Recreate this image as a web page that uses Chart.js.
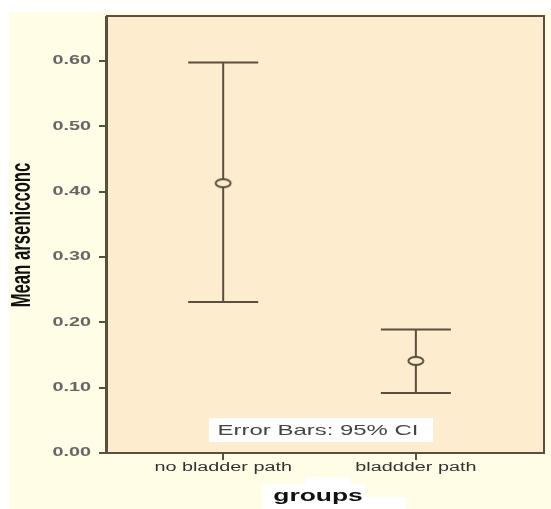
<!DOCTYPE html>
<html>
<head>
<meta charset="utf-8">
<script src="https://cdn.jsdelivr.net/npm/chart.js@4"></script>
<style>
  html, body { margin: 0; padding: 0; background: #ffffff; }
  #chart { display: block; }
</style>
</head>
<body>
<canvas id="chart" width="551" height="509"></canvas>
<script>
/* Error bar chart - mean arsenic conc per group, 95% CI */

const categories = ['no bladder path', 'bladdder path'];
const groupX = [1, 2];
const means = [0.413, 0.141];
const lowerCI = [0.231, 0.092];
const upperCI = [0.598, 0.189];
const yTicks = [0, 0.1, 0.2, 0.3, 0.4, 0.5, 0.6];

const LINE = '#5a4e3e';
const PLOT_BG = '#fdecce';
const OUTER_BG = '#fffde5';
const SX = 1.65; // the picture is stretched sideways

// draw text with the horizontal stretch
function stretchText(ctx, s, x, y, font, color, align, baseline, rotate) {
    ctx.save();
    ctx.translate(x, y);
    ctx.scale(SX, 1);
    if (rotate) ctx.rotate(-Math.PI / 2);
    ctx.font = font;
    ctx.fillStyle = color;
    ctx.textAlign = align;
    ctx.textBaseline = baseline;
    ctx.fillText(s, 0, 0);
    ctx.restore();
}

// small ellipse used as the mean marker
function ellipseMarker() {
    const c = document.createElement('canvas');
    c.width = 20; c.height = 12;
    const g = c.getContext('2d');
    g.fillStyle = PLOT_BG;
    g.strokeStyle = LINE;
    g.lineWidth = 2;
    g.beginPath();
    g.ellipse(10, 6, 7.5, 4, 0, 0, Math.PI * 2);
    g.fill();
    g.stroke();
    return c;
}

const backgroundPlugin = {
    id: 'backgrounds',
    beforeDraw(chart) {
        const ctx = chart.ctx;
        const a = chart.chartArea;
        ctx.save();
        ctx.fillStyle = '#ffffff';
        ctx.fillRect(0, 0, chart.width, chart.height);
        ctx.fillStyle = OUTER_BG;
        ctx.fillRect(9, 12, chart.width - 9, chart.height - 12);
        // white patches behind the x title
        ctx.fillStyle = '#ffffff';
        ctx.fillRect(262, 484, 103, 25);
        ctx.fillRect(306, 477, 44, 7);
        ctx.fillRect(365, 497, 41, 12);
        ctx.fillStyle = PLOT_BG;
        ctx.fillRect(a.left, a.top, a.right - a.left, a.bottom - a.top);
        ctx.restore();
    }
};

const errorBarPlugin = {
    id: 'errorBars',
    beforeDatasetsDraw(chart) {
        const ctx = chart.ctx;
        const xs = chart.scales.x, ys = chart.scales.y;
        ctx.save();
        ctx.strokeStyle = LINE;
        ctx.lineWidth = 2;
        groupX.forEach((gx, i) => {
            const px = xs.getPixelForValue(gx);
            const top = ys.getPixelForValue(upperCI[i]);
            const bot = ys.getPixelForValue(lowerCI[i]);
            ctx.beginPath();
            ctx.moveTo(px, top); ctx.lineTo(px, bot);
            ctx.moveTo(px - 35, top); ctx.lineTo(px + 35, top);
            ctx.moveTo(px - 35, bot); ctx.lineTo(px + 35, bot);
            ctx.stroke();
        });
        ctx.restore();
    },
    afterDraw(chart) {
        const ctx = chart.ctx;
        const a = chart.chartArea;
        const xs = chart.scales.x, ys = chart.scales.y;

        // frame
        ctx.save();
        ctx.strokeStyle = LINE;
        ctx.lineWidth = 2;
        ctx.strokeRect(a.left, a.top, a.right - a.left, a.bottom - a.top);
        ctx.lineWidth = 1;
        ctx.beginPath();
        ctx.moveTo(a.left - 1.5, a.top); ctx.lineTo(a.left - 1.5, a.bottom + 1);
        ctx.stroke();
        ctx.restore();

        // tick labels
        yTicks.forEach(v => {
            stretchText(ctx, v.toFixed(2), 91, ys.getPixelForValue(v), 'bold 12px "Liberation Sans", Arial, sans-serif',
                '#666666', 'right', 'middle');
        });
        groupX.forEach((gx, i) => {
            stretchText(ctx, categories[i], xs.getPixelForValue(gx), 468, '12px "Liberation Sans", Arial, sans-serif',
                '#333333', 'center', 'middle');
        });

        // axis titles
        stretchText(ctx, 'Mean arsenicconc', 22, 235, 'bold 16.7px "Liberation Sans", Arial, sans-serif',
            '#111111', 'center', 'middle', true);
        stretchText(ctx, 'groups', 318, 501, 'bold 16px "Liberation Sans", Arial, sans-serif',
            '#111111', 'center', 'alphabetic');

        // note box
        ctx.save();
        ctx.fillStyle = '#ffffff';
        ctx.fillRect(209, 418, 224, 24);
        ctx.restore();
        stretchText(ctx, 'Error Bars: 95% CI', 318, 430.5, '14.5px "Liberation Sans", Arial, sans-serif',
            '#444444', 'center', 'middle');
    }
};

new Chart(document.getElementById('chart'), {
    type: 'scatter',
    data: {
        datasets: [{
            data: groupX.map((gx, i) => ({ x: gx, y: means[i] })),
            pointStyle: ellipseMarker(),
            pointRadius: 6,
            showLine: false
        }]
    },
    options: {
        responsive: false,
        animation: false,
        devicePixelRatio: 1,
        layout: { padding: { top: 16, right: 4, left: 0, bottom: 0 } },
        plugins: {
            legend: { display: false },
            tooltip: { enabled: false }
        },
        scales: {
            x: {
                type: 'linear',
                min: 0.397,
                max: 2.665,
                afterFit: s => { s.height = 56; },
                afterBuildTicks: s => { s.ticks = groupX.map(v => ({ value: v })); },
                ticks: { display: false },
                border: { display: false },
                grid: { drawOnChartArea: false, drawTicks: true, tickLength: 7, color: LINE, lineWidth: 2 }
            },
            y: {
                min: 0,
                max: 0.669,
                afterFit: s => { s.width = 107; },
                afterBuildTicks: s => { s.ticks = yTicks.map(v => ({ value: v })); },
                ticks: { display: false },
                border: { display: false },
                grid: { drawOnChartArea: false, drawTicks: true, tickLength: 8, color: LINE, lineWidth: 2 }
            }
        }
    },
    plugins: [backgroundPlugin, errorBarPlugin]
});
</script>
</body>
</html>
